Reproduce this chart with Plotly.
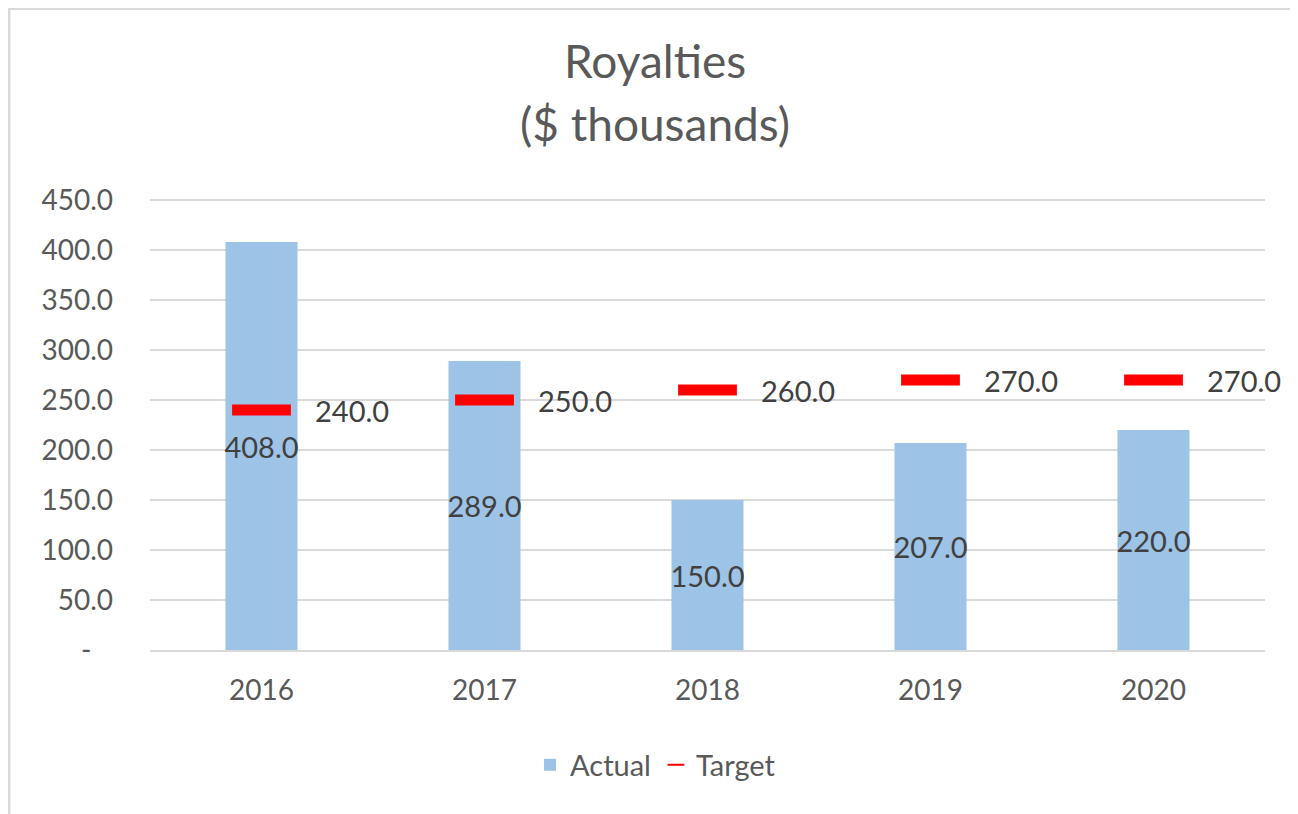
import plotly.graph_objects as go

years = ["2016", "2017", "2018", "2019", "2020"]
actual = [408.0, 289.0, 150.0, 207.0, 220.0]
target = [240.0, 250.0, 260.0, 270.0, 270.0]
y_tickvals = [0, 50, 100, 150, 200, 250, 300, 350, 400, 450]
y_ticktext = ["-\u00a0\u00a0\u00a0", "50.0", "100.0", "150.0", "200.0", "250.0",
              "300.0", "350.0", "400.0", "450.0"]

FONT = "Lato"
fig = go.Figure()
fig.add_trace(go.Bar(
    x=years, y=actual, name="Actual",
    marker=dict(color="#9DC3E6", line=dict(width=0)),
    text=[f"{v:.1f}" for v in actual],
    textposition="inside", insidetextanchor="middle", constraintext="none",
    textangle=0,
    textfont=dict(family=FONT, size=29, color="#404040"),
    cliponaxis=False,
))
fig.add_trace(go.Scatter(
    x=years, y=target, name="Target", mode="markers",
    marker=dict(symbol="line-ew-open", size=42, color="#FF0000",
                line=dict(width=11, color="#FF0000")),
))
for i, t in enumerate(target):
    fig.add_annotation(x=i, y=t, text=f"{t:.1f}", showarrow=False,
                       xanchor="left", yanchor="middle", xshift=51,
                       font=dict(family=FONT, size=29, color="#404040"))

# plot area: 455 px tall for 0..455 (1 px per unit)
fig.add_annotation(xref="paper", yref="paper", x=0.4529, y=1.2967, text="Royalties",
                   showarrow=False, xanchor="center", yanchor="middle",
                   font=dict(family=FONT, size=46, color="#595959"))
fig.add_annotation(xref="paper", yref="paper", x=0.4529, y=1.1582, text="($ thousands)",
                   showarrow=False, xanchor="center", yanchor="middle",
                   font=dict(family=FONT, size=46, color="#595959"))

fig.add_shape(type="rect", xref="paper", yref="paper",
              x0=-0.1265, x1=1.3, y0=-0.6, y1=1.4099,
              line=dict(color="#D9D9D9", width=3), fillcolor="rgba(0,0,0,0)", layer="below")

fig.update_layout(
    width=1290, height=806,
    margin=dict(l=142, r=33, t=187, b=164, autoexpand=False),
    paper_bgcolor="white", plot_bgcolor="white",
    bargap=0.677,
    showlegend=True,
    legend=dict(orientation="h", x=0.4534, y=-0.2527, xanchor="center", yanchor="middle",
                font=dict(family=FONT, size=29, color="#595959"),
                itemsizing="constant", traceorder="normal"),
    font=dict(family=FONT, color="#595959"),
)
fig.update_xaxes(type="category", range=[-0.5, len(years) - 0.5],
                 showgrid=False, showline=True, linecolor="#D9D9D9",
                 linewidth=2, ticks="", automargin=False,
                 tickfont=dict(family=FONT, size=28, color="#595959"),
                 ticklabelstandoff=14)
fig.update_yaxes(range=[0, 455], tickvals=y_tickvals, ticktext=y_ticktext,
                 showgrid=True, gridcolor="#D9D9D9", gridwidth=2, zeroline=False,
                 showline=False, ticks="", automargin=False,
                 tickfont=dict(family=FONT, size=28, color="#595959"),
                 ticklabelstandoff=36)

fig.write_html("out.html")
